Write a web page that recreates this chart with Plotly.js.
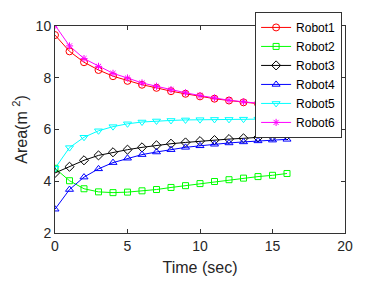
<!DOCTYPE html>
<html>
<head>
<meta charset="utf-8">
<script src="https://cdn.plot.ly/plotly-3.0.1.min.js"></script>
<style>html,body{margin:0;padding:0;background:#fff;}#chart{width:382px;height:281px;}</style>
</head>
<body>
<div id="chart"></div>
<script>
const time = [0,1,2,3,4,5,6,7,8,9,10,11,12,13,14,15,16];
const robot1 = [9.65, 9.02, 8.60, 8.30, 8.06, 7.88, 7.73, 7.61, 7.48, 7.38, 7.28, 7.19, 7.12, 7.05, 7.00, 6.95, 6.92];
const robot2 = [4.50, 4.02, 3.71, 3.59, 3.56, 3.58, 3.63, 3.68, 3.76, 3.83, 3.91, 3.99, 4.06, 4.12, 4.18, 4.23, 4.30];
const robot3 = [4.32, 4.56, 4.81, 5.00, 5.12, 5.22, 5.31, 5.39, 5.45, 5.50, 5.55, 5.59, 5.63, 5.66, 5.69, 5.73, 5.77];
const robot4 = [2.92, 3.68, 4.16, 4.48, 4.72, 4.89, 5.03, 5.13, 5.22, 5.31, 5.37, 5.43, 5.48, 5.52, 5.56, 5.59, 5.62];
const robot5 = [4.50, 5.30, 5.70, 5.95, 6.11, 6.22, 6.29, 6.33, 6.35, 6.37, 6.38, 6.39, 6.39, 6.40, 6.40, 6.40, 6.40];
const robot6 = [10.03, 9.23, 8.74, 8.44, 8.17, 7.99, 7.80, 7.67, 7.54, 7.42, 7.31, 7.22, 7.13, 7.07, 7.01, 6.96, 6.93];
const names = ['Robot1','Robot2','Robot3','Robot4','Robot5','Robot6'];
const xTicks = [0,5,10,15,20];
const yTicks = [2,4,6,8,10];

const series = [robot1, robot2, robot3, robot4, robot5, robot6];
const colors = ['#ff0000','#00ff00','#000000','#0000ff','#00ffff','#ff00ff'];
const symbols = ['circle-open','square-open','diamond-open','triangle-up-open','triangle-down-open','asterisk-open'];
const sizes = [7,6,7,7,7,6];

const traces = series.map((ys, i) => ({
  x: time, y: ys, name: names[i], type: 'scatter', mode: 'lines+markers',
  line: {color: colors[i], width: 1},
  marker: {symbol: symbols[i], size: sizes[i], color: colors[i], line: {color: colors[i], width: 1}}
}));

const FONT = 'Liberation Sans, Arial, sans-serif';
const axisCommon = {
  showgrid: false, zeroline: false, showline: true, mirror: 'ticks',
  linecolor: '#333333', linewidth: 1, ticks: 'inside', ticklen: 4, tickcolor: '#333333',
  tickfont: {family: FONT, size: 14, color: '#262626'}
};

const layout = {
  width: 382, height: 281,
  margin: {l: 55, r: 37, t: 20, b: 48},
  paper_bgcolor: '#ffffff', plot_bgcolor: '#ffffff',
  showlegend: true,
  legend: {
    x: 0.69, y: 1.068, xanchor: 'left', yanchor: 'top',
    bgcolor: '#ffffff', bordercolor: '#333333', borderwidth: 1,
    font: {family: FONT, size: 12, color: '#000'},
    tracegroupgap: 0, itemwidth: 30
  },
  xaxis: Object.assign({}, axisCommon, {
    range: [0, 20], tickvals: xTicks, ticktext: xTicks.map(String),
    title: {text: 'Time (sec)', font: {family: FONT, size: 16, color: '#262626'}, standoff: 9}
  }),
  yaxis: Object.assign({}, axisCommon, {
    range: [2, 10], tickvals: yTicks, ticktext: yTicks.map(String),
    title: {text: 'Area(m <sup>2</sup>)', font: {family: FONT, size: 16, color: '#262626'}, standoff: 4}
  })
};

Plotly.newPlot('chart', traces, layout, {displayModeBar: false, staticPlot: true});
</script>
</body>
</html>
